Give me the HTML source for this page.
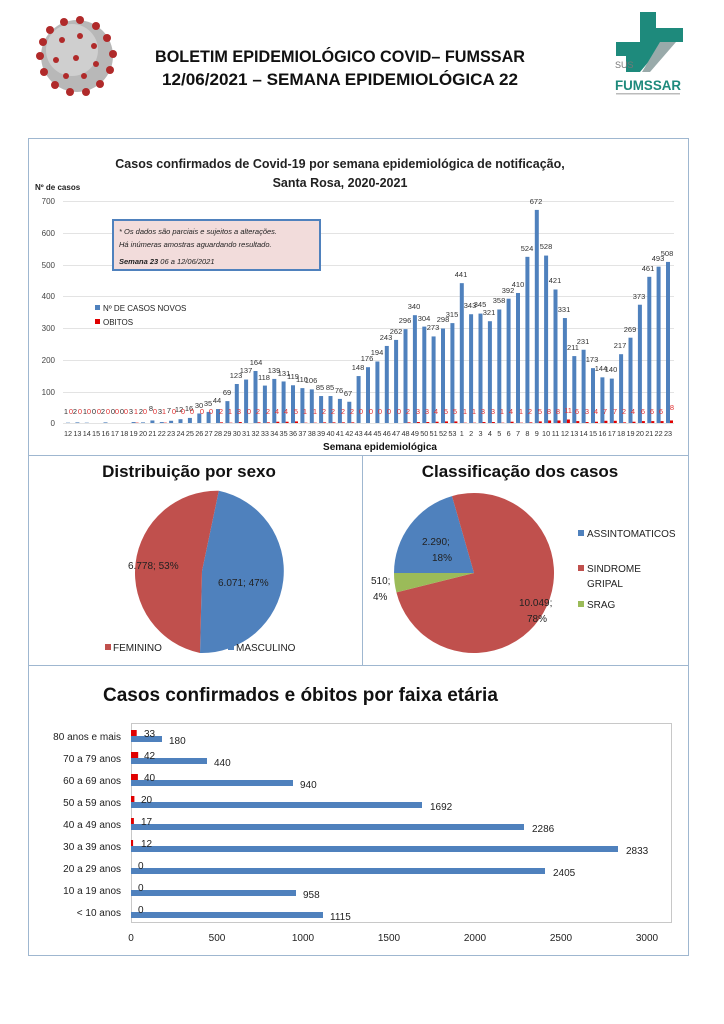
<!DOCTYPE html>
<html><head><meta charset="utf-8"><style>
html,body{margin:0;padding:0;background:#fff;}
svg{display:block;font-family:"Liberation Sans",sans-serif;}
</style></head><body>
<svg width="724" height="1024" viewBox="0 0 724 1024" xmlns="http://www.w3.org/2000/svg">
<rect width="724" height="1024" fill="#fff"/>
<!-- virus -->
<g>
<circle cx="77" cy="56" r="36" fill="#b8b8b8"/>
<circle cx="72" cy="50" r="26" fill="#cfcfcf"/>
<g fill="#b02a2a">
<circle cx="50" cy="30" r="4"/><circle cx="64" cy="22" r="4"/><circle cx="80" cy="20" r="4"/><circle cx="96" cy="26" r="4"/><circle cx="107" cy="38" r="4"/><circle cx="113" cy="54" r="4"/><circle cx="110" cy="70" r="4"/><circle cx="100" cy="84" r="4"/><circle cx="86" cy="92" r="4"/><circle cx="70" cy="92" r="4"/><circle cx="55" cy="85" r="4"/><circle cx="44" cy="72" r="4"/><circle cx="40" cy="56" r="4"/><circle cx="43" cy="42" r="4"/>
<circle cx="62" cy="40" r="3"/><circle cx="80" cy="36" r="3"/><circle cx="94" cy="46" r="3"/><circle cx="96" cy="64" r="3"/><circle cx="84" cy="76" r="3"/><circle cx="66" cy="76" r="3"/><circle cx="56" cy="60" r="3"/><circle cx="76" cy="58" r="3"/>
</g></g>
<!-- header text -->
<text x="340" y="62" text-anchor="middle" font-size="17" font-weight="bold" fill="#111" textLength="370" lengthAdjust="spacingAndGlyphs">BOLETIM EPIDEMIOLÓGICO COVID– FUMSSAR</text>
<text x="340" y="85" text-anchor="middle" font-size="17" font-weight="bold" fill="#111" textLength="356" lengthAdjust="spacingAndGlyphs">12/06/2021 – SEMANA EPIDEMIOLÓGICA 22</text>
<!-- logo -->
<g>
<polygon points="640,12 656,12 656,28 683,28 683,42 665,42 640,72 626,72 626,56 616,56 616,42 640,42" fill="#1e8a7c"/>
<polygon points="660,42 676,42 650,72 642,72" fill="#9aa"/>
<text x="615" y="68" font-size="9" fill="#777">SUS</text>
<text x="648" y="90" text-anchor="middle" font-size="13.5" font-weight="bold" fill="#1e8a7c" textLength="66" lengthAdjust="spacingAndGlyphs">FUMSSAR</text>
<rect x="616" y="93" width="64" height="1.5" fill="#bbb"/>
</g>
<!-- panels -->
<g fill="none" stroke="#9fb7d0" stroke-width="1">
<rect x="28.5" y="138.5" width="660" height="817"/>
<line x1="28" y1="455.5" x2="688" y2="455.5"/>
<line x1="28" y1="665.5" x2="688" y2="665.5"/>
<line x1="362.5" y1="455" x2="362.5" y2="665"/>
</g>
<!-- bar chart -->
<text x="340" y="168" text-anchor="middle" font-size="12.5" font-weight="bold" fill="#222">Casos confirmados de Covid-19 por semana epidemiológica de notificação,</text>
<text x="340" y="187" text-anchor="middle" font-size="12.5" font-weight="bold" fill="#222">Santa Rosa, 2020-2021</text>
<text x="35" y="190" font-size="8" font-weight="bold" fill="#222">Nº de casos</text>
<g stroke="#e3e3e3" stroke-width="1">
<line x1="63" y1="201.5" x2="674" y2="201.5"/><line x1="63" y1="233.5" x2="674" y2="233.5"/><line x1="63" y1="265.5" x2="674" y2="265.5"/><line x1="63" y1="296.5" x2="674" y2="296.5"/><line x1="63" y1="328.5" x2="674" y2="328.5"/><line x1="63" y1="360.5" x2="674" y2="360.5"/><line x1="63" y1="392.5" x2="674" y2="392.5"/><line x1="63" y1="423.5" x2="674" y2="423.5"/>
</g>
<g font-size="8" fill="#444" text-anchor="end">
<text x="55" y="204">700</text><text x="55" y="236">600</text><text x="55" y="268">500</text><text x="55" y="299">400</text><text x="55" y="331">300</text><text x="55" y="363">200</text><text x="55" y="395">100</text><text x="55" y="426">0</text>
</g>
<rect x="113" y="220" width="207" height="50" fill="#f2dcdb" stroke="#4f81bd" stroke-width="2"/>
<text x="119" y="234" font-size="7.5" font-style="italic" fill="#222">* Os dados são parciais e sujeitos a alterações.</text>
<text x="119" y="247" font-size="7.5" font-style="italic" fill="#222">Há inúmeras amostras aguardando resultado.</text>
<text x="119" y="264" font-size="7.5" font-style="italic" fill="#222"><tspan font-weight="bold">Semana 23</tspan>  06 a 12/06/2021</text>
<rect x="95" y="305" width="5" height="5" fill="#4f81bd"/><text x="103" y="311" font-size="8" fill="#222">Nº DE CASOS NOVOS</text>
<rect x="95" y="319" width="5" height="5" fill="#e00000"/><text x="103" y="325" font-size="8" fill="#222">OBITOS</text>
<!-- blue bars -->
<g transform="translate(0,423) scale(1,-0.3171)" fill="#4f81bd">
<rect x="66" width="4" height="1"/><rect x="75.4" width="4" height="2"/><rect x="84.8" width="4" height="1"/><rect x="94.1" width="4" height="0"/><rect x="103.5" width="4" height="2"/><rect x="112.9" width="4" height="0"/><rect x="122.3" width="4" height="0"/><rect x="131.6" width="4" height="3"/><rect x="141" width="4" height="2"/><rect x="150.4" width="4" height="8"/><rect x="159.8" width="4" height="3"/><rect x="169.1" width="4" height="7"/><rect x="178.5" width="4" height="12"/><rect x="187.9" width="4" height="16"/><rect x="197.3" width="4" height="30"/><rect x="206.6" width="4" height="35"/><rect x="216" width="4" height="44"/><rect x="225.4" width="4" height="69"/><rect x="234.8" width="4" height="123"/><rect x="244.1" width="4" height="137"/><rect x="253.5" width="4" height="164"/><rect x="262.9" width="4" height="118"/><rect x="272.3" width="4" height="139"/><rect x="281.6" width="4" height="131"/><rect x="291" width="4" height="119"/><rect x="300.4" width="4" height="110"/><rect x="309.8" width="4" height="106"/><rect x="319.1" width="4" height="85"/><rect x="328.5" width="4" height="85"/><rect x="337.9" width="4" height="76"/><rect x="347.3" width="4" height="67"/><rect x="356.6" width="4" height="148"/><rect x="366" width="4" height="176"/><rect x="375.4" width="4" height="194"/><rect x="384.8" width="4" height="243"/><rect x="394.1" width="4" height="262"/><rect x="403.5" width="4" height="296"/><rect x="412.9" width="4" height="340"/><rect x="422.3" width="4" height="304"/><rect x="431.6" width="4" height="273"/><rect x="441" width="4" height="298"/><rect x="450.4" width="4" height="315"/><rect x="459.8" width="4" height="441"/><rect x="469.1" width="4" height="343"/><rect x="478.5" width="4" height="345"/><rect x="487.9" width="4" height="321"/><rect x="497.3" width="4" height="358"/><rect x="506.6" width="4" height="392"/><rect x="516" width="4" height="410"/><rect x="525.4" width="4" height="524"/><rect x="534.8" width="4" height="672"/><rect x="544.1" width="4" height="528"/><rect x="553.5" width="4" height="421"/><rect x="562.9" width="4" height="331"/><rect x="572.3" width="4" height="211"/><rect x="581.6" width="4" height="231"/><rect x="591" width="4" height="173"/><rect x="600.4" width="4" height="144"/><rect x="609.8" width="4" height="140"/><rect x="619.1" width="4" height="217"/><rect x="628.5" width="4" height="269"/><rect x="637.9" width="4" height="373"/><rect x="647.3" width="4" height="461"/><rect x="656.6" width="4" height="493"/><rect x="666" width="4" height="508"/>
</g>
<!-- death bars -->
<g transform="translate(0,423) scale(1,-0.3171)" fill="#e00000">
<rect x="135.6" width="3" height="1"/><rect x="163.8" width="3" height="1"/><rect x="220" width="3" height="2"/><rect x="229.4" width="3" height="1"/><rect x="238.8" width="3" height="3"/><rect x="257.5" width="3" height="2"/><rect x="266.9" width="3" height="2"/><rect x="276.3" width="3" height="4"/><rect x="285.6" width="3" height="4"/><rect x="295" width="3" height="5"/><rect x="304.4" width="3" height="1"/><rect x="313.8" width="3" height="1"/><rect x="323.1" width="3" height="2"/><rect x="332.5" width="3" height="2"/><rect x="341.9" width="3" height="2"/><rect x="351.3" width="3" height="2"/><rect x="407.5" width="3" height="2"/><rect x="416.9" width="3" height="3"/><rect x="426.3" width="3" height="3"/><rect x="435.6" width="3" height="4"/><rect x="445" width="3" height="5"/><rect x="454.4" width="3" height="5"/><rect x="463.8" width="3" height="1"/><rect x="473.1" width="3" height="1"/><rect x="482.5" width="3" height="3"/><rect x="491.9" width="3" height="3"/><rect x="501.3" width="3" height="1"/><rect x="510.6" width="3" height="4"/><rect x="520" width="3" height="1"/><rect x="529.4" width="3" height="2"/><rect x="538.8" width="3" height="5"/><rect x="548.1" width="3" height="8"/><rect x="557.5" width="3" height="8"/><rect x="566.9" width="3" height="11"/><rect x="576.3" width="3" height="6"/><rect x="585.6" width="3" height="3"/><rect x="595" width="3" height="4"/><rect x="604.4" width="3" height="7"/><rect x="613.8" width="3" height="7"/><rect x="623.1" width="3" height="2"/><rect x="632.5" width="3" height="4"/><rect x="641.9" width="3" height="6"/><rect x="651.3" width="3" height="6"/><rect x="660.6" width="3" height="6"/><rect x="670" width="3" height="8"/>
</g>
<!-- case labels -->
<g font-size="7.5" fill="#333" text-anchor="middle">
<text x="66" y="414">1</text><text x="75" y="414">2</text><text x="85" y="414">1</text><text x="94" y="414">0</text><text x="103" y="414">2</text><text x="113" y="414">0</text><text x="122" y="414">0</text><text x="131" y="414">3</text><text x="141" y="414">2</text><text x="151" y="411">8</text><text x="160" y="414">3</text><text x="169" y="413">7</text><text x="179" y="412">12</text><text x="189" y="411">16</text><text x="199" y="408">30</text><text x="208" y="406">35</text><text x="217" y="403">44</text><text x="227" y="395">69</text><text x="236" y="378">123</text><text x="246" y="373">137</text><text x="256" y="365">164</text><text x="264" y="380">118</text><text x="274" y="373">139</text><text x="284" y="376">131</text><text x="293" y="379">119</text><text x="302" y="382">110</text><text x="311" y="383">106</text><text x="320" y="390">85</text><text x="330" y="390">85</text><text x="339" y="393">76</text><text x="348" y="396">67</text><text x="358" y="370">148</text><text x="367" y="361">176</text><text x="377" y="355">194</text><text x="386" y="340">243</text><text x="396" y="334">262</text><text x="405" y="323">296</text><text x="414" y="309">340</text><text x="424" y="321">304</text><text x="433" y="330">273</text><text x="443" y="322">298</text><text x="452" y="317">315</text><text x="461" y="277">441</text><text x="470" y="308">343</text><text x="480" y="307">345</text><text x="489" y="315">321</text><text x="499" y="303">358</text><text x="508" y="293">392</text><text x="518" y="287">410</text><text x="527" y="251">524</text><text x="536" y="204">672</text><text x="546" y="249">528</text><text x="555" y="283">421</text><text x="564" y="312">331</text><text x="573" y="350">211</text><text x="583" y="344">231</text><text x="592" y="362">173</text><text x="601" y="371">144</text><text x="611" y="372">140</text><text x="620" y="348">217</text><text x="630" y="332">269</text><text x="639" y="299">373</text><text x="648" y="271">461</text><text x="658" y="261">493</text><text x="667" y="256">508</text>
</g>
<!-- death labels -->
<g font-size="7.5" fill="#e03030" text-anchor="middle">
<text x="71" y="414">0</text><text x="80" y="414">0</text><text x="89" y="414">0</text><text x="99" y="414">0</text><text x="108" y="414">0</text><text x="117" y="414">0</text><text x="126" y="414">0</text><text x="136" y="414">1</text><text x="145" y="414">0</text><text x="155" y="414">0</text><text x="164" y="414">1</text><text x="174" y="414">0</text><text x="183" y="414">0</text><text x="192" y="414">0</text><text x="202" y="414">0</text><text x="211" y="414">0</text><text x="221" y="414">2</text><text x="230" y="414">1</text><text x="239" y="414">3</text><text x="249" y="414">0</text><text x="258" y="414">2</text><text x="268" y="414">2</text><text x="277" y="414">4</text><text x="286" y="414">4</text><text x="296" y="414">5</text><text x="305" y="414">1</text><text x="315" y="414">1</text><text x="324" y="414">2</text><text x="333" y="414">2</text><text x="343" y="414">2</text><text x="352" y="414">2</text><text x="361" y="414">0</text><text x="371" y="414">0</text><text x="380" y="414">0</text><text x="389" y="414">0</text><text x="399" y="414">0</text><text x="408" y="414">2</text><text x="418" y="414">3</text><text x="427" y="414">3</text><text x="436" y="414">4</text><text x="446" y="414">5</text><text x="455" y="414">5</text><text x="465" y="414">1</text><text x="474" y="414">1</text><text x="483" y="414">3</text><text x="493" y="414">3</text><text x="502" y="414">1</text><text x="511" y="414">4</text><text x="521" y="414">1</text><text x="530" y="414">2</text><text x="540" y="414">5</text><text x="549" y="414">8</text><text x="558" y="414">8</text><text x="568" y="413">11</text><text x="577" y="414">6</text><text x="587" y="414">3</text><text x="596" y="414">4</text><text x="605" y="414">7</text><text x="615" y="414">7</text><text x="624" y="414">2</text><text x="633" y="414">4</text><text x="643" y="414">6</text><text x="652" y="414">6</text><text x="661" y="414">6</text><text x="672" y="410">8</text>
</g>
<!-- x labels -->
<g font-size="7.3" fill="#333" text-anchor="middle">
<text x="68" y="436">12</text><text x="77.4" y="436">13</text><text x="86.8" y="436">14</text><text x="96.1" y="436">15</text><text x="105.5" y="436">16</text><text x="114.9" y="436">17</text><text x="124.3" y="436">18</text><text x="133.6" y="436">19</text><text x="143" y="436">20</text><text x="152.4" y="436">21</text><text x="161.8" y="436">22</text><text x="171.1" y="436">23</text><text x="180.5" y="436">24</text><text x="189.9" y="436">25</text><text x="199.3" y="436">26</text><text x="208.6" y="436">27</text><text x="218" y="436">28</text><text x="227.4" y="436">29</text><text x="236.8" y="436">30</text><text x="246.1" y="436">31</text><text x="255.5" y="436">32</text><text x="264.9" y="436">33</text><text x="274.3" y="436">34</text><text x="283.6" y="436">35</text><text x="293" y="436">36</text><text x="302.4" y="436">37</text><text x="311.8" y="436">38</text><text x="321.1" y="436">39</text><text x="330.5" y="436">40</text><text x="339.9" y="436">41</text><text x="349.3" y="436">42</text><text x="358.6" y="436">43</text><text x="368" y="436">44</text><text x="377.4" y="436">45</text><text x="386.8" y="436">46</text><text x="396.1" y="436">47</text><text x="405.5" y="436">48</text><text x="414.9" y="436">49</text><text x="424.3" y="436">50</text><text x="433.6" y="436">51</text><text x="443" y="436">52</text><text x="452.4" y="436">53</text><text x="461.8" y="436">1</text><text x="471.1" y="436">2</text><text x="480.5" y="436">3</text><text x="489.9" y="436">4</text><text x="499.3" y="436">5</text><text x="508.6" y="436">6</text><text x="518" y="436">7</text><text x="527.4" y="436">8</text><text x="536.8" y="436">9</text><text x="546.1" y="436">10</text><text x="555.5" y="436">11</text><text x="564.9" y="436">12</text><text x="574.3" y="436">13</text><text x="583.6" y="436">14</text><text x="593" y="436">15</text><text x="602.4" y="436">16</text><text x="611.8" y="436">17</text><text x="621.1" y="436">18</text><text x="630.5" y="436">19</text><text x="639.9" y="436">20</text><text x="649.3" y="436">21</text><text x="658.6" y="436">22</text><text x="668" y="436">23</text>
</g>
<text x="380" y="450" text-anchor="middle" font-size="10" font-weight="bold" fill="#111">Semana epidemiológica</text>

<!-- pie 1 -->
<text x="189" y="477" text-anchor="middle" font-size="17" font-weight="bold" fill="#111">Distribuição por sexo</text>
<g transform="translate(202,571)">
<path d="M0,0 L16.8,-80.2 A82,82 0 0 1 -2,82 Z" fill="#4f81bd"/>
<path d="M0,0 L-2,82 A82,82 0 0 1 16.8,-80.2 Z" fill="#c0504d"/>
</g>
<text x="128" y="569" font-size="10" fill="#222">6.778; 53%</text>
<text x="218" y="586" font-size="10" fill="#222">6.071; 47%</text>
<rect x="105" y="644" width="6" height="6" fill="#c0504d"/><text x="113" y="651" font-size="10" fill="#222">FEMININO</text>
<rect x="228" y="644" width="6" height="6" fill="#4f81bd"/><text x="236" y="651" font-size="10" fill="#222">MASCULINO</text>

<!-- pie 2 -->
<text x="520" y="477" text-anchor="middle" font-size="17" font-weight="bold" fill="#111">Classificação dos casos</text>
<g transform="translate(474,573)">
<path d="M0,0 L-80,0 A80,80 0 0 1 -22,-76.9 Z" fill="#4f81bd"/>
<path d="M0,0 L-22,-76.9 A80,80 0 1 1 -77.6,19.4 Z" fill="#c0504d"/>
<path d="M0,0 L-77.6,19.4 A80,80 0 0 1 -80,0 Z" fill="#9bbb59"/>
</g>
<text x="422" y="545" font-size="10" fill="#222">2.290;</text><text x="432" y="561" font-size="10" fill="#222">18%</text>
<text x="371" y="584" font-size="10" fill="#222">510;</text><text x="373" y="600" font-size="10" fill="#222">4%</text>
<text x="519" y="606" font-size="10" fill="#222">10.049;</text><text x="527" y="622" font-size="10" fill="#222">78%</text>
<rect x="578" y="530" width="6" height="6" fill="#4f81bd"/><text x="587" y="537" font-size="10" fill="#222">ASSINTOMATICOS</text>
<rect x="578" y="565" width="6" height="6" fill="#c0504d"/><text x="587" y="572" font-size="10" fill="#222">SINDROME</text><text x="587" y="587" font-size="10" fill="#222">GRIPAL</text>
<rect x="578" y="601" width="6" height="6" fill="#9bbb59"/><text x="587" y="608" font-size="10" fill="#222">SRAG</text>

<!-- age chart -->
<text x="103" y="701" font-size="19" font-weight="bold" fill="#111">Casos confirmados e óbitos  por faixa etária</text>
<rect x="131.5" y="723.5" width="540" height="199" fill="none" stroke="#c8c8c8"/>
<g font-size="10" fill="#222" text-anchor="end">
<text x="121" y="740">80 anos e mais</text><text x="121" y="762">70 a 79 anos</text><text x="121" y="784">60 a 69 anos</text><text x="121" y="806">50 a 59 anos</text><text x="121" y="828">40 a 49 anos</text><text x="121" y="850">30 a 39 anos</text><text x="121" y="872">20 a 29 anos</text><text x="121" y="894">10 a 19 anos</text><text x="121" y="916">&lt; 10 anos</text>
</g>
<g fill="#4f81bd">
<rect x="131" y="736" width="31" height="6"/><rect x="131" y="758" width="76" height="6"/><rect x="131" y="780" width="162" height="6"/><rect x="131" y="802" width="291" height="6"/><rect x="131" y="824" width="393" height="6"/><rect x="131" y="846" width="487" height="6"/><rect x="131" y="868" width="414" height="6"/><rect x="131" y="890" width="165" height="6"/><rect x="131" y="912" width="192" height="6"/>
</g>
<g fill="#e00000">
<rect x="131" y="730" width="5.7" height="6"/><rect x="131" y="752" width="7.2" height="6"/><rect x="131" y="774" width="6.9" height="6"/><rect x="131" y="796" width="3.4" height="6"/><rect x="131" y="818" width="2.9" height="6"/><rect x="131" y="840" width="2.1" height="6"/>
</g>
<g font-size="10" fill="#222">
<text x="144" y="737">33</text><text x="144" y="759">42</text><text x="144" y="781">40</text><text x="141" y="803">20</text><text x="141" y="825">17</text><text x="141" y="847">12</text><text x="138" y="869">0</text><text x="138" y="891">0</text><text x="138" y="913">0</text>
<text x="169" y="744">180</text><text x="214" y="766">440</text><text x="300" y="788">940</text><text x="430" y="810">1692</text><text x="532" y="832">2286</text><text x="626" y="854">2833</text><text x="553" y="876">2405</text><text x="303" y="898">958</text><text x="330" y="920">1115</text>
</g>
<g font-size="10" fill="#222" text-anchor="middle">
<text x="131" y="941">0</text><text x="217" y="941">500</text><text x="303" y="941">1000</text><text x="389" y="941">1500</text><text x="475" y="941">2000</text><text x="561" y="941">2500</text><text x="647" y="941">3000</text>
</g>
</svg>
</body></html>
